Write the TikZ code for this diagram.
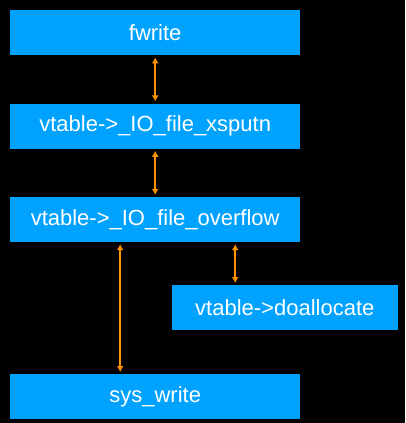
\documentclass[tikz,border=0pt]{standalone}
\usepackage{fontspec}
\setmainfont{Liberation Sans}
\usetikzlibrary{positioning,arrows.meta}
\definecolor{boxblue}{HTML}{00A2FF}
\definecolor{linkorange}{HTML}{FF9300}

\begin{document}
\begin{tikzpicture}[x=1pt, y=1pt, node distance={48pt},
  call/.style = {fill=boxblue, text=white, minimum width=290pt, minimum height=45pt, inner sep=0pt, font=\fontsize{22}{26}\selectfont},
  link/.style = {linkorange, line width=1.6pt, {Latex[length=6pt,width=7pt]}-{Latex[length=6pt,width=7pt]}, shorten <=2pt, shorten >=2pt}]
\fill[black] (0,0) rectangle (405,-423);
\node[call, anchor=north west] (fw) at (10,-10) {fwrite};
\node[call] (xs) [below=of fw] {vtable->\_IO\_file\_xsputn};
\node[call] (of) [below=of xs] {vtable->\_IO\_file\_overflow};
\node[call, minimum width=226pt, anchor=north east] (da) at (398,-285) {vtable->doallocate};
\node[call, anchor=north west] (sw) at (10,-374) {sys\_write};
\coordinate (ofl) at ([xshift=-35pt]of.south);
\coordinate (ofr) at ([xshift=80pt]of.south);
\draw[link] (fw) -- (xs);
\draw[link] (xs) -- (of);
\draw[link] (ofl) -- (ofl |- sw.north);
\draw[link] (ofr) -- (ofr |- da.north);
\end{tikzpicture}
\end{document}
